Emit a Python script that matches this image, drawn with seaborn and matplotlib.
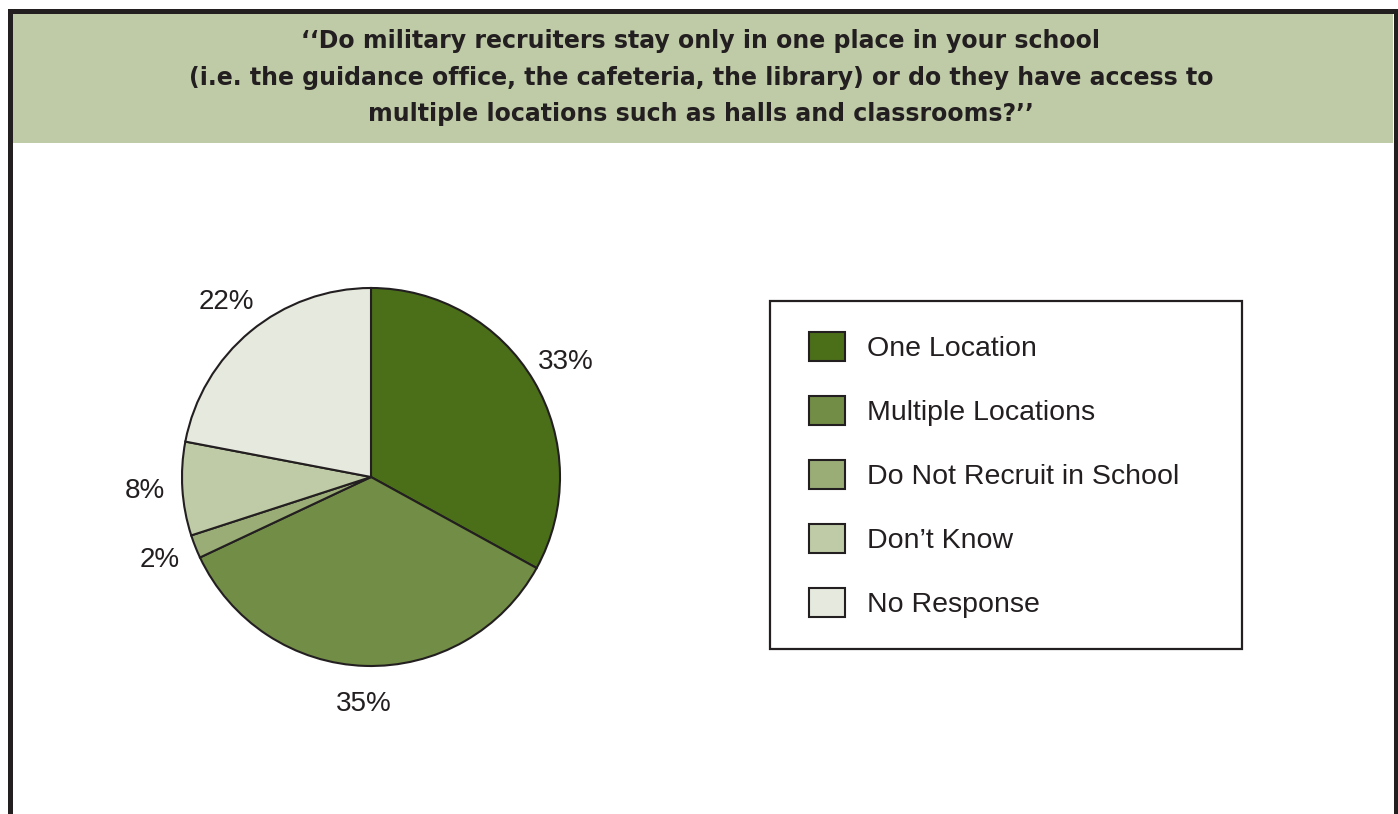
import matplotlib
matplotlib.use("Agg")
import matplotlib.pyplot as plt
from matplotlib.patches import Rectangle, Wedge
from matplotlib.lines import Line2D
from matplotlib.legend_handler import HandlerPatch
import seaborn as sns

# Survey answers (percent of respondents)
categories = ["One Location", "Multiple Locations", "Do Not Recruit in School",
              "Don\u2019t Know", "No Response"]
shares = [33, 35, 2, 8, 22]
slice_colors = ["#4b6f19", "#728d45", "#9aad76", "#bfcba6", "#e6e9dd"]

title_lines = [
    "\u2018\u2018Do military recruiters stay only in one place in your school",
    "(i.e. the guidance office, the cafeteria, the library) or do they have access to",
    "multiple locations such as halls and classrooms?\u2019\u2019",
]

INK = "#231f20"
BAND = "#bfcba6"

sns.set_theme(style="white")
plt.rcParams["font.family"] = ["Liberation Sans", "DejaVu Sans"]

W, H = 1398, 814
fig = plt.figure(figsize=(W / 100, H / 100), dpi=100)
fig.patch.set_facecolor("white")


def fx(px):
    return px / W


def fy(py):
    return 1 - py / H


# Header band and outer frame
fig.add_artist(Rectangle((fx(12), fy(143)), fx(1381), 130 / H, transform=fig.transFigure,
                         facecolor=BAND, edgecolor="none", zorder=0))
fig.add_artist(Line2D([fx(9.5), fx(9.5), fx(1395.5), fx(1395.5)],
                      [fy(H + 5), fy(10.5), fy(10.5), fy(H + 5)],
                      transform=fig.transFigure, color=INK, linewidth=3.6,
                      solid_joinstyle="miter", zorder=5))

for i, line in enumerate(title_lines):
    fig.text(fx(701), fy(41 + 36.7 * i), line, ha="center", va="center",
             fontsize=17.05, fontweight="bold", color=INK,
             family=["DejaVu Sans"])

# Pie: centre (371, 477) px, radius 189 px
cx, cy, r = 371, 477, 189
half = 260
ax = fig.add_axes([fx(cx - half), fy(cy + half), 2 * half / W, 2 * half / H])
palette = sns.color_palette(slice_colors)
wedges, _, autotexts = ax.pie(
    shares, colors=palette, startangle=90, counterclock=False,
    autopct=lambda p: f"{p:.0f}%", pctdistance=1.2,
    wedgeprops=dict(edgecolor=INK, linewidth=1.5),
    textprops=dict(fontsize=20, color=INK),
)
lim = half / r
ax.set_xlim(-lim, lim)
ax.set_ylim(-lim, lim)
ax.set_aspect("equal")
ax.axis("off")

# Legend box
fs = 20.5
fs_px = fs * 100 / 72
leg = ax.legend(
    wedges, categories,
    loc="upper left",
    bbox_to_anchor=(fx(770), fy(301), fx(1242) - fx(770), 0.0),
    bbox_transform=fig.transFigure,
    mode="expand", borderaxespad=0.0,
    frameon=True, fancybox=False, shadow=False,
    fontsize=fs, labelcolor=INK,
    handlelength=(36 + 8) / fs_px, handleheight=34 / fs_px,
    handletextpad=22 / fs_px, labelspacing=1.19, borderpad=1.08,
    handler_map={Wedge: HandlerPatch(xpad=8 / fs_px)},
)
frame = leg.get_frame()
frame.set_edgecolor(INK)
frame.set_linewidth(1.6)
frame.set_facecolor("white")
frame.set_alpha(1)

fig.savefig("out.png", dpi=100, facecolor="white")
